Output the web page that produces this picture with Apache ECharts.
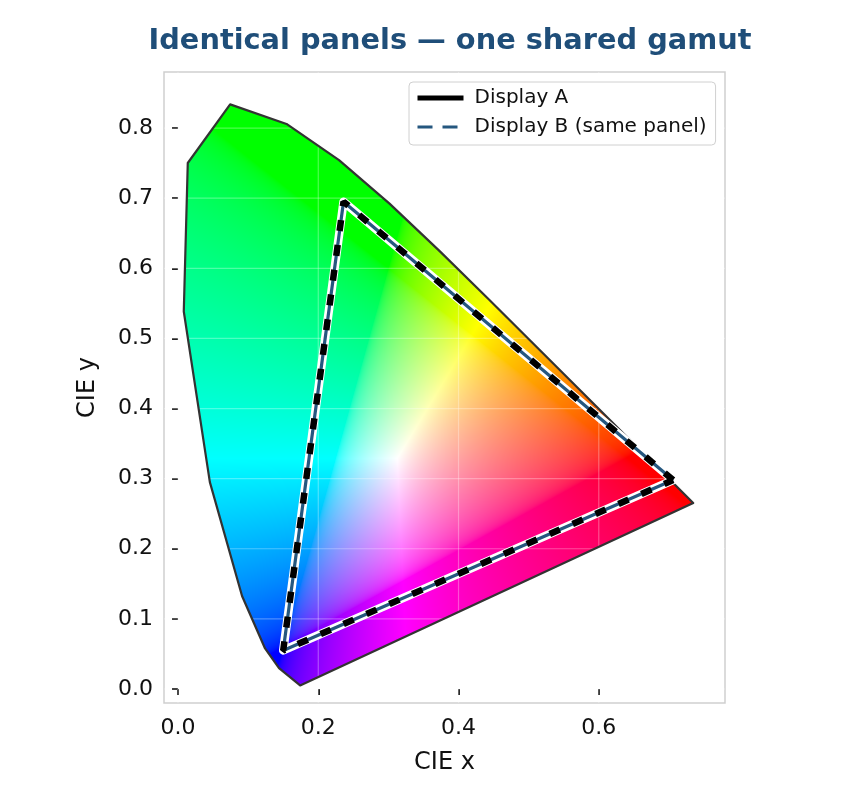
<!DOCTYPE html>
<html>
<head>
<meta charset="utf-8">
<style>
  html, body { margin: 0; padding: 0; background: #fff; }
  #chart { width: 864px; height: 800px; }
</style>
<script src="https://cdn.jsdelivr.net/npm/echarts@6/dist/echarts.min.js"></script>
</head>
<body>
<div id="chart"></div>
<script>
// spectral locus (CIE 1931 xy), blue end -> red end
const locusX = [0.1741, 0.1440, 0.1241, 0.0913, 0.0454, 0.0082, 0.0139, 0.0743, 0.1547, 0.2296, 0.3016, 0.3731, 0.4441, 0.5125, 0.5752, 0.6270, 0.6658, 0.6915, 0.7347];
const locusY = [0.0050, 0.0297, 0.0578, 0.1327, 0.2950, 0.5384, 0.7502, 0.8338, 0.8059, 0.7543, 0.6923, 0.6245, 0.5547, 0.4866, 0.4242, 0.3725, 0.3340, 0.3083, 0.2653];

// panel primaries R -> G -> B -> R (both displays share them)
const gamutX = [0.706, 0.236, 0.150, 0.706];
const gamutY = [0.298, 0.695, 0.055, 0.298];

const xTicks = [0.0, 0.2, 0.4, 0.6];
const yTicks = [0.0, 0.1, 0.2, 0.3, 0.4, 0.5, 0.6, 0.7, 0.8];

const FONT = 'DejaVu Sans';
const BLUE = '#25577f';

const locusData = locusX.map((x, i) => [x, locusY[i]]);
const gamutData = gamutX.map((x, i) => [x, gamutY[i]]);

function srgbGamma(c) {
  return c <= 0.0031308 ? 12.92 * c : 1.055 * Math.pow(c, 1 / 2.4) - 0.055;
}

function xyToRgb(x, y) {
  const X = x / y, Y = 1, Z = (1 - x - y) / y;
  let r = 3.2406 * X - 1.5372 * Y - 0.4986 * Z;
  let g = -0.9689 * X + 1.8758 * Y + 0.0415 * Z;
  let b = 0.0557 * X - 0.2040 * Y + 1.0570 * Z;
  r = Math.max(r, 0); g = Math.max(g, 0); b = Math.max(b, 0);
  const m = Math.max(r, g, b) || 1;
  return [srgbGamma(r / m) * 255, srgbGamma(g / m) * 255, srgbGamma(b / m) * 255];
}

// colour fill of the horseshoe, painted once in pixel space and masked by the locus
let fillCache = null;
function paintFill(pts, api) {
  const dpr = window.devicePixelRatio || 1;
  const xs = pts.map(p => p[0]), ys = pts.map(p => p[1]);
  const left = Math.floor(Math.min(...xs)) - 2, top = Math.floor(Math.min(...ys)) - 2;
  const w = Math.ceil(Math.max(...xs)) + 2 - left, h = Math.ceil(Math.max(...ys)) + 2 - top;
  const o = api.coord([0, 0]), u = api.coord([1, 1]);
  const sx = u[0] - o[0], sy = u[1] - o[1];

  const cv = document.createElement('canvas');
  cv.width = Math.round(w * dpr); cv.height = Math.round(h * dpr);
  const ctx = cv.getContext('2d');
  const img = ctx.createImageData(cv.width, cv.height);
  for (let j = 0; j < cv.height; j++) {
    const py = top + (j + 0.5) / dpr;
    const y = (py - o[1]) / sy;
    for (let i = 0; i < cv.width; i++) {
      const px = left + (i + 0.5) / dpr;
      const x = (px - o[0]) / sx;
      const k = (j * cv.width + i) * 4;
      if (y <= 0.001) { img.data[k + 3] = 0; continue; }
      const c = xyToRgb(x, y);
      img.data[k] = c[0]; img.data[k + 1] = c[1]; img.data[k + 2] = c[2]; img.data[k + 3] = 255;
    }
  }
  ctx.putImageData(img, 0, 0);
  ctx.globalCompositeOperation = 'destination-in';
  ctx.beginPath();
  pts.forEach((p, i) => {
    const X = (p[0] - left) * dpr, Y = (p[1] - top) * dpr;
    if (i === 0) ctx.moveTo(X, Y); else ctx.lineTo(X, Y);
  });
  ctx.closePath();
  ctx.fill();
  return { canvas: cv, left: left, top: top, w: w, h: h };
}

function renderLocus(params, api) {
  if (params.dataIndex !== 0) return null;
  const pts = locusX.map((x, i) => api.coord([x, locusY[i]]));
  const cs = params.coordSys;
  if (!fillCache) fillCache = paintFill(pts, api);
  const children = [{
    type: 'image',
    style: { image: fillCache.canvas, x: fillCache.left, y: fillCache.top, width: fillCache.w, height: fillCache.h }
  }];
  // faint grid drawn over the colour fill
  const gridStyle = { stroke: 'rgba(255,255,255,0.3)', lineWidth: 1.2 };
  xTicks.forEach(v => {
    const p = api.coord([v, 0]);
    children.push({ type: 'line', shape: { x1: p[0], y1: cs.y, x2: p[0], y2: cs.y + cs.height }, style: gridStyle });
  });
  yTicks.forEach(v => {
    const p = api.coord([0, v]);
    children.push({ type: 'line', shape: { x1: cs.x, y1: p[1], x2: cs.x + cs.width, y2: p[1] }, style: gridStyle });
  });
  children.push({
    type: 'polygon',
    shape: { points: pts },
    style: { fill: 'none', stroke: '#333333', lineWidth: 2.2, lineJoin: 'round' }
  });
  return { type: 'group', children: children };
}

const chart = echarts.init(document.getElementById('chart'));

const noMarker = { opacity: 0, color: 'rgba(0,0,0,0)', borderColor: 'rgba(0,0,0,0)', borderWidth: 0 };

const option = {
  animation: false,
  backgroundColor: '#ffffff',
  title: {
    text: 'Identical panels — one shared gamut',
    left: 445,
    textAlign: 'center',
    top: 22,
    textStyle: { fontFamily: FONT, fontSize: 28.8, fontWeight: 'bold', color: '#1f4e79' }
  },
  legend: {
    orient: 'vertical',
    left: 409,
    top: 82,
    padding: [6, 9, 8, 6],
    itemWidth: 46,
    itemHeight: 20,
    itemGap: 9,
    backgroundColor: '#ffffff',
    borderColor: '#d0d0d0',
    borderWidth: 1,
    borderRadius: 4,
    textStyle: { fontFamily: FONT, fontSize: 20, color: '#111', padding: [0, 0, 0, 6] },
    data: [
      { name: 'Display A', itemStyle: noMarker, lineStyle: { type: 'solid', width: 5, color: '#000000' } },
      { name: 'Display B (same panel)', itemStyle: noMarker, lineStyle: { type: [15, 10], width: 3, color: BLUE } }
    ]
  },
  grid: {
    left: 164,
    top: 72,
    width: 561,
    height: 631,
    show: true,
    backgroundColor: '#ffffff',
    borderColor: '#cfcfcf',
    borderWidth: 1.5
  },
  xAxis: {
    type: 'value',
    min: -0.02,
    max: 0.78,
    name: 'CIE x',
    nameLocation: 'middle',
    nameGap: 48,
    nameTextStyle: { fontFamily: FONT, fontSize: 24, color: '#111' },
    axisLine: { show: false },
    splitLine: { show: false },
    axisTick: { show: true, customValues: xTicks, length: 6, lineStyle: { color: '#222', width: 2 } },
    axisLabel: { customValues: xTicks, margin: 14, fontFamily: FONT, fontSize: 22, color: '#111',
      formatter: v => v.toFixed(1) }
  },
  yAxis: {
    type: 'value',
    min: -0.02,
    max: 0.88,
    name: 'CIE y',
    nameLocation: 'middle',
    nameGap: 64,
    nameTextStyle: { fontFamily: FONT, fontSize: 24, color: '#111' },
    axisLine: { show: false },
    splitLine: { show: false },
    axisTick: { show: true, customValues: yTicks, length: 6, lineStyle: { color: '#222', width: 2 } },
    axisLabel: { customValues: yTicks, margin: 11, fontFamily: FONT, fontSize: 22, color: '#111',
      formatter: v => v.toFixed(1) }
  },
  series: [
    {
      name: 'locus',
      type: 'custom',
      renderItem: renderLocus,
      data: locusData,
      z: 1,
      silent: true
    },
    {
      name: 'outline',
      type: 'line',
      data: gamutData,
      symbol: 'none',
      z: 3,
      silent: true,
      lineStyle: { color: '#ffffff', width: 8.5, join: 'round', cap: 'round' }
    },
    {
      name: 'Display B (same panel)',
      type: 'line',
      data: gamutData,
      symbol: 'none',
      z: 4,
      color: BLUE,
      lineStyle: { color: BLUE, width: 3.2, join: 'round' }
    },
    {
      name: 'Display A',
      type: 'line',
      data: gamutData,
      symbol: 'none',
      z: 5,
      color: '#000000',
      lineStyle: { color: '#000000', width: 6.5, type: [11, 14] }
    }
  ]
};

chart.setOption(option);
</script>
</body>
</html>
